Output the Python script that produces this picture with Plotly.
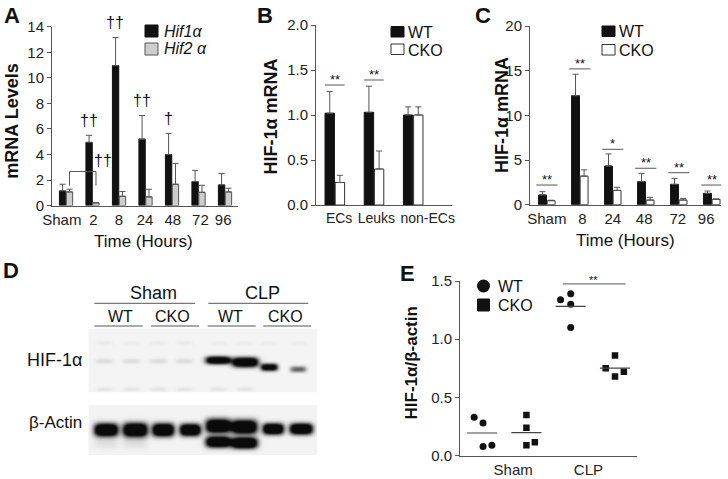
import numpy as np
import plotly.graph_objects as go

W, H = 728, 479
FONT = "Liberation Sans, Arial, Helvetica, sans-serif"
INK = "#111111"
AXC = "#555555"

# ---------------- data ----------------
# Panel A
a_times = ["Sham", "2", "8", "24", "48", "72", "96"]
a_hif1 = [1.15, 4.95, 10.95, 5.2, 4.0, 1.88, 1.62]
a_hif1_err = [0.52, 0.55, 2.2, 1.85, 1.65, 0.88, 0.9]
a_hif2 = [1.07, 0.22, 0.73, 0.68, 1.67, 1.04, 1.07]
a_hif2_err = [0.21, 0.0, 0.37, 0.6, 1.63, 0.55, 0.29]
a_hif1_marks = ["", "††", "††", "††", "†", "", ""]

# Panel B
b_cells = ["ECs", "Leuks", "non-ECs"]
b_wt = [1.02, 1.03, 1.00]
b_wt_err = [0.24, 0.29, 0.09]
b_cko = [0.25, 0.40, 1.00]
b_cko_err = [0.08, 0.20, 0.09]
b_sig_text = ["**", "**", ""]
b_sig_y = [1.333, 1.389, None]

# Panel C
c_times = ["Sham", "8", "24", "48", "72", "96"]
c_wt = [1.09, 12.2, 4.33, 2.58, 2.28, 1.27]
c_wt_err = [0.37, 2.4, 1.35, 0.93, 0.67, 0.26]
c_cko = [0.45, 3.2, 1.6, 0.52, 0.52, 0.60]
c_cko_err = [0.05, 0.7, 0.35, 0.30, 0.19, 0.05]
c_sig_text = ["**", "**", "*", "**", "**", "**"]
c_sig_y = [2.2, 15.2, 6.2, 4.08, 3.58, 2.2]

# Panel D (western blot)
d_groups = ["Sham", "CLP"]
d_genotypes = ["WT", "CKO", "WT", "CKO"]
d_rows = ["HIF-1α", "β-Actin"]
hif_band_int = [0.10, 0.10, 0.10, 0.10, 1.5, 1.6, 1.3, 0.6]
actin_band_int = [1.6, 1.6, 1.6, 1.6, 1.6, 1.6, 1.6, 1.6]
actin_lower_int = [0.08, 0.08, 0.0, 0.0, 1.6, 1.7, 0.0, 0.0]

# Panel E
e_groups = ["Sham", "CLP"]
e_sham_wt = [0.33, 0.28, 0.08, 0.09]
e_sham_cko = [0.35, 0.24, 0.09, 0.115]
e_clp_wt = [1.34, 1.39, 1.30, 1.10]
e_clp_cko = [0.86, 0.75, 0.72, 0.68]
e_jit_sham_wt = [-0.18, 0.02, 0.02, 0.22]
e_jit_sham_cko = [0.0, 0.0, 0.0, 0.19]
e_jit_clp_wt = [-0.23, 0.0, 0.0, 0.0]
e_jit_clp_cko = [0.0, -0.21, 0.2, 0.0]


# ---------------- helpers ----------------
def px(x):
    return x / W


def py(y):
    return 1 - y / H


annotations = []
shapes = []


def txt(x, y, text, size=15, bold=False, italic=False, xanchor="center",
        yanchor="middle", angle=0, color=INK):
    if bold:
        text = "<b>" + text + "</b>"
    if italic:
        text = "<i>" + text + "</i>"
    annotations.append(dict(x=px(x), y=py(y), xref="paper", yref="paper", text=text,
                            showarrow=False, xanchor=xanchor, yanchor=yanchor,
                            textangle=angle, font=dict(family=FONT, size=size, color=color)))


def pline(x0, y0, x1, y1, color=AXC, width=1):
    shapes.append(dict(type="line", xref="paper", yref="paper", x0=px(x0), y0=py(y0),
                       x1=px(x1), y1=py(y1), line=dict(color=color, width=width)))


def prect(x0, y0, x1, y1, fill, line=INK):
    shapes.append(dict(type="rect", xref="paper", yref="paper", x0=px(x0), y0=py(y0),
                       x1=px(x1), y1=py(y1), fillcolor=fill, line=dict(color=line, width=1)))


def err(vals):
    return dict(type="data", symmetric=False, array=vals, arrayminus=[0] * len(vals),
                color=AXC, thickness=1, width=3)


fig = go.Figure()

# ---------------- Panel A ----------------
xa = list(range(len(a_times)))
fig.add_bar(x=xa, y=a_hif1, error_y=err(a_hif1_err), xaxis="x", yaxis="y",
            marker=dict(color=INK, line=dict(color=INK, width=1)))
fig.add_bar(x=xa, y=a_hif2, error_y=err(a_hif2_err), xaxis="x", yaxis="y",
            marker=dict(color="#cdcdcd", line=dict(color="#555555", width=1)))
for i, m in enumerate(a_hif1_marks):
    if m:
        annotations.append(dict(x=i - 0.14, y=a_hif1[i] + a_hif1_err[i], xref="x", yref="y",
                                text=m, showarrow=False, yanchor="middle", yshift=15,
                                font=dict(family=FONT, size=16, color=INK)))
annotations.append(dict(x=1.38, y=3.5, xref="x", yref="y", text="††", showarrow=False,
                        font=dict(family=FONT, size=16, color=INK)))
for (x0, y0, x1, y1) in [(0.13, 1.56, 0.13, 2.67), (0.13, 2.67, 1.13, 2.67), (1.13, 2.67, 1.13, 1.56)]:
    shapes.append(dict(type="line", xref="x", yref="y", x0=x0, y0=y0, x1=x1, y1=y1,
                       line=dict(color=AXC, width=1)))

# ---------------- Panel B ----------------
xb = list(range(len(b_cells)))
fig.add_bar(x=xb, y=b_wt, error_y=err(b_wt_err), xaxis="x2", yaxis="y2",
            marker=dict(color=INK, line=dict(color=INK, width=1)))
fig.add_bar(x=xb, y=b_cko, error_y=err(b_cko_err), xaxis="x2", yaxis="y2",
            marker=dict(color="white", line=dict(color="#333333", width=1)))
for i, (t, yv) in enumerate(zip(b_sig_text, b_sig_y)):
    if t:
        shapes.append(dict(type="line", xref="x2", yref="y2", x0=i - 0.25, x1=i + 0.25,
                           y0=yv, y1=yv, line=dict(color=AXC, width=1)))
        annotations.append(dict(x=i, y=yv, xref="x2", yref="y2", text=t, showarrow=False,
                                yanchor="bottom", yshift=-4,
                                font=dict(family=FONT, size=13, color=INK)))

# ---------------- Panel C ----------------
xc = list(range(len(c_times)))
fig.add_bar(x=xc, y=c_wt, error_y=err(c_wt_err), xaxis="x3", yaxis="y3",
            marker=dict(color=INK, line=dict(color=INK, width=1)))
fig.add_bar(x=xc, y=c_cko, error_y=err(c_cko_err), xaxis="x3", yaxis="y3",
            marker=dict(color="white", line=dict(color="#333333", width=1)))
for i, (t, yv) in enumerate(zip(c_sig_text, c_sig_y)):
    shapes.append(dict(type="line", xref="x3", yref="y3", x0=i - 0.32, x1=i + 0.32,
                       y0=yv, y1=yv, line=dict(color=AXC, width=1)))
    annotations.append(dict(x=i, y=yv, xref="x3", yref="y3", text=t, showarrow=False,
                            yanchor="bottom", yshift=-4,
                            font=dict(family=FONT, size=13, color=INK)))

# ---------------- Panel E ----------------
e_sets = [(0, e_sham_wt, e_jit_sham_wt, "circle"), (1, e_sham_cko, e_jit_sham_cko, "square"),
          (2, e_clp_wt, e_jit_clp_wt, "circle"), (3, e_clp_cko, e_jit_clp_cko, "square")]
for pos, vals, jit, sym in e_sets:
    fig.add_scatter(x=[pos + j for j in jit], y=vals, mode="markers", xaxis="x4", yaxis="y4",
                    marker=dict(symbol=sym, size=7 if sym == "circle" else 6.5, color=INK,
                                line=dict(width=0)))
    m = float(np.mean(vals))
    fig.add_scatter(x=[pos - 0.34, pos + 0.34], y=[m, m], mode="lines", xaxis="x4", yaxis="y4",
                    line=dict(color="#444444", width=1.2))
shapes.append(dict(type="line", xref="x4", yref="y4", x0=1.82, x1=3.24, y0=1.475, y1=1.475,
                   line=dict(color=AXC, width=1)))
annotations.append(dict(x=2.51, y=1.475, xref="x4", yref="y4", text="**", showarrow=False,
                        yanchor="bottom", yshift=-4, font=dict(family=FONT, size=11, color=INK)))

# ---------------- Panel D (blot images) ----------------
hif_x = [15, 42, 69, 95, 129, 156, 180, 209]
hif_y = [32, 32, 32, 32, 31, 33, 38, 40]
hif_w = [9, 9, 9, 9, 12.5, 13, 8.5, 8]
hif_h = [2.5, 2.5, 2.5, 2.5, 3.8, 4.8, 3.6, 3.0]
act_x = [17, 46, 74, 101, 129, 155, 184, 212]
act_y = [24, 24, 24, 24, 20, 21, 23, 23]
act_w = [12, 12.5, 11, 10.5, 12.5, 13, 10.5, 11.5]
act_h = [6.5, 7, 6.5, 6, 7, 7, 5.5, 5.5]
low_y = [37, 37, 0, 0, 36, 37, 0, 0]


def blot(width, height, bands, bg):
    xx, yy = np.meshgrid(np.arange(width), np.arange(height))
    z = np.full((height, width), bg, dtype=float)
    for cx, cy, it, w, h in bands:
        if it > 0:
            z += it * np.exp(-np.abs((xx - cx) / w) ** 4 - np.abs((yy - cy) / h) ** 2.5)
    return np.clip(z, 0, 1)


up_bands = list(zip(hif_x, hif_y, hif_band_int, hif_w, hif_h))
up_bands += [(cx, 60, 0.07, 8, 2) for cx in hif_x[:6]]
up_bands += [(cx, 14, 0.04, 8, 2) for cx in hif_x]
lo_bands = list(zip(act_x, act_y, actin_band_int, act_w, act_h))
lo_bands += list(zip(act_x, low_y, actin_lower_int, act_w, [5.5] * 8))
z_up = blot(229, 64, up_bands, 0.045)
z_lo = blot(229, 50, lo_bands, 0.05)
gray_cs = [[0, "#ffffff"], [1, "#0a0a0a"]]
fig.add_heatmap(z=z_up, xaxis="x5", yaxis="y5", colorscale=gray_cs, zmin=0, zmax=1,
                showscale=False, zsmooth="best", hoverinfo="skip")
fig.add_heatmap(z=z_lo, xaxis="x6", yaxis="y6", colorscale=gray_cs, zmin=0, zmax=1,
                showscale=False, zsmooth="best", hoverinfo="skip")

# D labels
txt(153, 293, d_groups[0], size=18)
txt(262.5, 293, d_groups[1], size=18)
pline(94.3, 303.3, 195, 303.3)
pline(208.3, 303.3, 308.3, 303.3)
for cx, (x0, x1), g in zip([120, 172.3, 230, 285.7],
                          [(94.3, 142.7), (151, 199), (207.7, 255.7), (263.3, 311)], d_genotypes):
    txt(cx, 316.5, g, size=16)
    pline(x0, 326, x1, 326)
txt(84, 360, d_rows[0], size=18, xanchor="right")
txt(84, 422, d_rows[1], size=17, xanchor="right")

# ---------------- panel letters / titles / legends ----------------
for letter, x, y in [("A", 11.7, 16), ("B", 265, 16), ("C", 482.5, 16), ("D", 11, 270), ("E", 407.5, 273)]:
    txt(x, y, letter, size=22, bold=True)
txt(11.7, 121, "mRNA Levels", size=18, bold=True, angle=-90)
txt(270.5, 117, "HIF-1α mRNA", size=18, bold=True, angle=-90)
txt(502, 115, "HIF-1α mRNA", size=18, bold=True, angle=-90)
txt(411, 363.5, "HIF-1α/β-actin", size=17, bold=True, angle=-90)
txt(143.5, 241, "Time (Hours)", size=17)
txt(625, 240, "Time (Hours)", size=17)

# legend A
prect(145, 25, 158, 37, INK)
prect(145, 43, 158, 55, "#cdcdcd", line="#555555")
txt(162, 31, "Hif1α", size=16, italic=True, xanchor="left")
txt(162, 49, "Hif2 α", size=16, italic=True, xanchor="left")
# legend B
prect(391, 26.5, 404, 37, INK)
prect(391, 44, 404, 54.5, "white", line="#333333")
txt(406, 32, "WT", size=16, xanchor="left")
txt(406, 50, "CKO", size=16, xanchor="left")
# legend C
prect(602, 26, 615, 36.5, INK)
prect(602, 44.5, 615, 55, "white", line="#333333")
txt(617, 31.5, "WT", size=16, xanchor="left")
txt(617, 50, "CKO", size=16, xanchor="left")
# legend E
shapes.append(dict(type="circle", xref="paper", yref="paper", x0=px(477), x1=px(490),
                   y0=py(292.5), y1=py(279.5), fillcolor=INK, line=dict(width=0)))
prect(477.5, 299, 489.5, 311, INK)
txt(496, 286, "WT", size=16, xanchor="left")
txt(496, 305, "CKO", size=16, xanchor="left")

# ---------------- axes ----------------
ycommon = dict(showline=True, linecolor=AXC, linewidth=1, ticks="outside", ticklen=4,
               tickcolor=AXC, tickfont=dict(family=FONT, size=15, color="#222222"),
               showgrid=False, zeroline=False, automargin=False)
xcommon = dict(showline=True, linecolor=AXC, linewidth=1, ticks="", tickangle=0,
               tickfont=dict(family=FONT, size=15, color="#222222"),
               showgrid=False, zeroline=False, automargin=False)
hidden = dict(visible=False, showgrid=False, zeroline=False, automargin=False)

a_tick_shift = [-0.16, 0.03, 0.0, -0.02, 0.03, 0.07, -0.07]
b_tick_shift = [0.11, 0.06, 0.37]
c_tick_shift = [0.0, 0.08, 0.0, -0.05, -0.03, -0.17]

fig.update_layout(
    template="none",
    width=W, height=H, margin=dict(l=0, r=0, t=0, b=0, pad=0, autoexpand=False),
    paper_bgcolor="white", plot_bgcolor="white", showlegend=False,
    barmode="group", bargap=0.48, bargroupgap=0.08,
    font=dict(family=FONT, color=INK),
    xaxis=dict(xcommon, domain=[px(52), px(238)], range=[-0.53, 6.49], anchor="y",
               tickvals=[i + s for i, s in zip(xa, a_tick_shift)], ticktext=a_times),
    yaxis=dict(ycommon, domain=[py(205.6), py(26.7)], range=[0, 14], anchor="x",
               tickvals=[0, 2, 4, 6, 8, 10, 12, 14]),
    xaxis2=dict(xcommon, domain=[px(316), px(452)], range=[-0.48, 2.99], anchor="y2",
                tickvals=[i + s for i, s in zip(xb, b_tick_shift)], ticktext=b_cells,
                tickfont=dict(family=FONT, size=14, color="#222222")),
    yaxis2=dict(ycommon, domain=[py(205), py(25)], range=[0, 2], anchor="x2",
                tickvals=[0, 0.5, 1, 1.5, 2], tickformat=".1f"),
    xaxis3=dict(xcommon, domain=[px(530), px(721)], range=[-0.51, 5.28], anchor="y3",
                tickvals=[i + s for i, s in zip(xc, c_tick_shift)], ticktext=c_times),
    yaxis3=dict(ycommon, domain=[py(204.7), py(26)], range=[0, 20], anchor="x3",
                tickvals=[0, 5, 10, 15, 20]),
    xaxis4=dict(xcommon, domain=[px(460), px(636.7)], range=[-0.5, 3.49], anchor="y4",
                tickvals=[0.7, 2.4], ticktext=e_groups),
    yaxis4=dict(ycommon, domain=[py(455.7), py(281)], range=[0, 1.5], anchor="x4",
                tickvals=[0, 0.5, 1, 1.5], tickformat=".1f"),
    xaxis5=dict(hidden, domain=[px(88.3), px(317.3)], range=[-0.5, 228.5], anchor="y5"),
    yaxis5=dict(hidden, domain=[py(392.7), py(328.3)], range=[63.5, -0.5], anchor="x5"),
    xaxis6=dict(hidden, domain=[px(88.3), px(317.3)], range=[-0.5, 228.5], anchor="y6"),
    yaxis6=dict(hidden, domain=[py(455), py(405)], range=[49.5, -0.5], anchor="x6"),
    annotations=annotations, shapes=shapes,
)

fig.write_html("out.html", config={"displayModeBar": False, "staticPlot": True},
               post_script="document.body.style.margin='0';document.body.style.overflow='hidden';")
